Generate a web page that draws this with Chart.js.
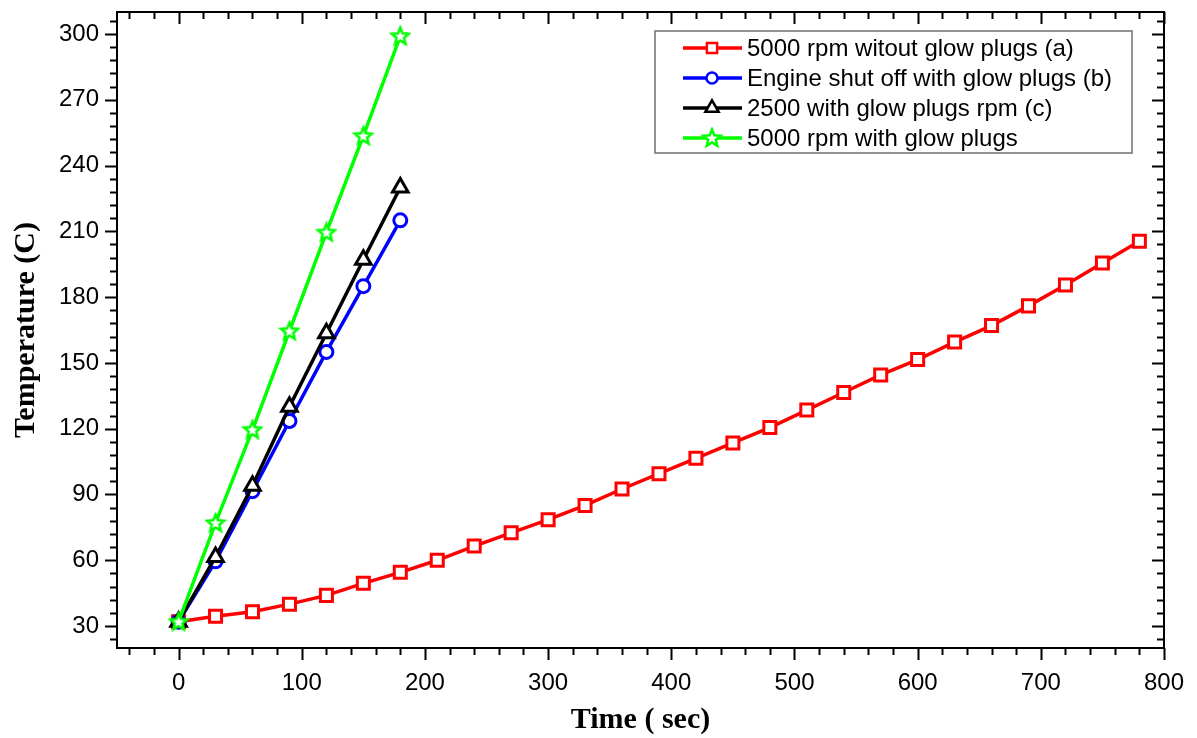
<!DOCTYPE html>
<html>
<head>
<meta charset="utf-8">
<script src="https://cdn.jsdelivr.net/npm/chart.js@4/dist/chart.umd.min.js"></script>
<style>
  html, body { margin: 0; padding: 0; background: #ffffff; }
  #wrap { width: 1197px; height: 738px; position: relative; }
</style>
</head>
<body>
<div id="wrap"><canvas id="tempChart"></canvas></div>
<script>
// time points (sec)
const timeA = [0, 30, 60, 90, 120, 150, 180, 210, 240, 270, 300, 330, 360, 390, 420, 450, 480, 510, 540, 570, 600, 630, 660, 690, 720, 750, 780]
const timeShort = [0, 30, 60, 90, 120, 150, 180]

// temperatures (C)
const tempA = [32, 34.5, 36.5, 40, 44, 49.5, 54.5, 60, 66.5, 72.5, 78.5, 85, 92.5, 99.5, 106.5, 113.5, 120.5, 128.5, 136.5, 144.5, 151.5, 159.5, 167, 176, 185.5, 195.5, 205.5]
const tempB = [32, 59.5, 91.5, 123.5, 155, 185, 215]
const tempC = [32, 61.5, 94, 130, 163.5, 197, 230]
const tempD = [32, 77, 119.5, 164.5, 209.5, 253.5, 299]

const seriesLabels = [
  '5000 rpm witout glow plugs (a)',
  'Engine shut off with glow plugs (b)',
  '2500 with glow plugs rpm (c)',
  '5000 rpm with glow plugs'
]

const xTitle = 'Time ( sec)'
const yTitle = 'Temperature (C)'

function toPoints(xs, ys) {
  return xs.map((x, i) => ({ x: x, y: ys[i] }))
}

// hollow five point star used as a marker
function makeStar(color) {
  const c = document.createElement('canvas')
  c.width = 22
  c.height = 22
  const g = c.getContext('2d')
  g.beginPath()
  for (let i = 0; i < 10; i++) {
    const r = i % 2 === 0 ? 9 : 4
    const a = -Math.PI / 2 + i * Math.PI / 5
    const px = 11 + r * Math.cos(a)
    const py = 11.5 + r * Math.sin(a)
    if (i === 0) g.moveTo(px, py)
    else g.lineTo(px, py)
  }
  g.closePath()
  g.fillStyle = '#ffffff'
  g.fill()
  g.lineWidth = 2.5
  g.strokeStyle = color
  g.stroke()
  return c
}

const starGreen = makeStar('#00ff00')

const styles = [
  { color: '#ff0000', pointStyle: 'rect', radius: 8.5 },
  { color: '#0000ff', pointStyle: 'circle', radius: 6.5 },
  { color: '#000000', pointStyle: 'triangle', radius: 9 },
  { color: '#00ff00', pointStyle: starGreen, radius: 9 }
]

// ticks on all four sides, plus top/right border and the legend box
const framePlugin = {
  id: 'frame',
  afterDraw(chart) {
    const ctx = chart.ctx
    const xs = chart.scales.x
    const ys = chart.scales.y
    const { left, right, top, bottom } = chart.chartArea
    ctx.save()
    ctx.strokeStyle = '#000000'
    ctx.lineWidth = 2
    ctx.lineCap = 'butt'

    ctx.beginPath()
    ctx.moveTo(left, top)
    ctx.lineTo(right, top)
    ctx.lineTo(right, bottom)
    ctx.stroke()

    const major = 12
    const minor = 7
    for (let v = -40; v <= 800; v += 20) {
      const px = Math.round(xs.getPixelForValue(v)) + 0.5
      const len = v % 100 === 0 ? major : minor
      ctx.beginPath()
      ctx.moveTo(px, bottom)
      ctx.lineTo(px, bottom + len)
      ctx.moveTo(px, top)
      ctx.lineTo(px, top + len)
      ctx.stroke()
    }
    for (let v = 24; v <= 306; v += 6) {
      const py = Math.round(ys.getPixelForValue(v)) + 0.5
      const len = v % 30 === 0 ? major : minor
      ctx.beginPath()
      ctx.moveTo(left, py)
      ctx.lineTo(left - len, py)
      ctx.moveTo(right, py)
      ctx.lineTo(right - len, py)
      ctx.stroke()
    }

    // legend
    const bx = 655, by = 31, bw = 477, bh = 122
    ctx.fillStyle = '#ffffff'
    ctx.fillRect(bx, by, bw, bh)
    ctx.strokeStyle = '#707070'
    ctx.lineWidth = 1.5
    ctx.strokeRect(bx, by, bw, bh)

    ctx.font = '24px "Liberation Sans", Arial, sans-serif'
    ctx.textBaseline = 'middle'
    ctx.textAlign = 'left'
    seriesLabels.forEach((label, i) => {
      const st = styles[i]
      const ry = 48 + i * 30
      ctx.strokeStyle = st.color
      ctx.lineWidth = 3.5
      ctx.beginPath()
      ctx.moveTo(683, ry)
      ctx.lineTo(742, ry)
      ctx.stroke()
      ctx.fillStyle = '#ffffff'
      ctx.lineWidth = 2.5
      Chart.helpers.drawPoint(ctx, {
        pointStyle: st.pointStyle,
        radius: st.radius * 0.85,
        rotation: 0,
        borderWidth: 2.5
      }, 712, ry)
      ctx.fillStyle = '#000000'
      ctx.fillText(label, 747, ry + 1)
    })
    ctx.restore()
  }
}

const datasets = [
  toPoints(timeA, tempA),
  toPoints(timeShort, tempB),
  toPoints(timeShort, tempC),
  toPoints(timeShort, tempD)
].map((pts, i) => ({
  label: seriesLabels[i],
  data: pts,
  borderColor: styles[i].color,
  backgroundColor: '#ffffff',
  pointBackgroundColor: '#ffffff',
  pointBorderColor: styles[i].color,
  pointStyle: styles[i].pointStyle,
  pointRadius: styles[i].radius,
  pointBorderWidth: 3,
  borderWidth: 3.5,
  tension: 0,
  fill: false,
  order: 4 - i
}))

const tickFont = { family: '"Liberation Sans", Arial, sans-serif', size: 24 }
const titleFont = { family: '"Liberation Serif", "Times New Roman", serif', size: 30, weight: 'bold' }

new Chart(document.getElementById('tempChart'), {
  type: 'line',
  data: { datasets: datasets },
  options: {
    responsive: true,
    maintainAspectRatio: false,
    animation: false,
    layout: { padding: { top: 8, right: 33, left: 0, bottom: 0 } },
    plugins: {
      legend: { display: false },
      tooltip: { enabled: false }
    },
    scales: {
      x: {
        type: 'linear',
        min: -50,
        max: 800,
        afterFit: scale => {
          scale.height = 90
          scale.paddingLeft = 0
          scale.paddingRight = 0
        },
        grid: { drawOnChartArea: false, drawTicks: false },
        border: { display: true, color: '#000000', width: 2 },
        ticks: {
          stepSize: 20,
          autoSkip: false,
          maxRotation: 0,
          padding: 21,
          color: '#000000',
          font: tickFont,
          callback: v => (v % 100 === 0 ? String(v) : '')
        },
        title: {
          display: true,
          text: xTitle,
          color: '#000000',
          font: titleFont,
          padding: { top: 0, bottom: 0 }
        }
      },
      y: {
        min: 20,
        max: 310,
        afterFit: scale => {
          scale.width = 117
          scale.paddingTop = 0
          scale.paddingBottom = 0
        },
        grid: { drawOnChartArea: false, drawTicks: false },
        border: { display: true, color: '#000000', width: 2 },
        ticks: {
          stepSize: 6,
          autoSkip: false,
          padding: 18,
          color: '#000000',
          font: tickFont,
          callback: v => (v % 30 === 0 ? String(v) : '')
        },
        title: {
          display: true,
          text: yTitle,
          color: '#000000',
          font: titleFont,
          padding: { top: 8, bottom: 0 }
        }
      }
    }
  },
  plugins: [framePlugin]
})
</script>
</body>
</html>
